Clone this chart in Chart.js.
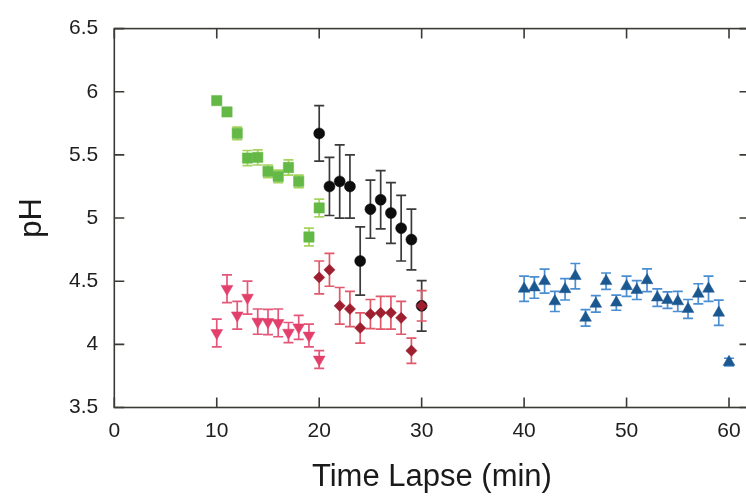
<!DOCTYPE html>
<html>
<head>
<meta charset="utf-8">
<script src="https://cdn.jsdelivr.net/npm/chart.js@4.4.1/dist/chart.umd.min.js"></script>
<style>
  html, body { margin: 0; padding: 0; background: #fff; overflow: hidden; }
  #wrap { width: 760px; height: 497px; }
</style>
</head>
<body>
<div id="wrap"><canvas id="c" width="760" height="497"></canvas></div>
<script>
// ---- data ----
const greenX = [10, 11, 12, 13, 14, 15, 16, 17, 18, 19, 20];
const greenY = [5.93, 5.84, 5.67, 5.475, 5.48, 5.37, 5.33, 5.40, 5.29, 4.85, 5.08];
const greenErr = [0.02, 0.03, 0.05, 0.06, 0.06, 0.05, 0.05, 0.06, 0.05, 0.07, 0.07];

const blackX = [20, 21, 22, 23, 24, 25, 26, 27, 28, 29, 30];
const blackY = [5.67, 5.25, 5.29, 5.25, 4.66, 5.07, 5.145, 5.04, 4.92, 4.83, 4.305];
const blackErr = [0.22, 0.23, 0.29, 0.25, 0.27, 0.23, 0.23, 0.24, 0.26, 0.24, 0.20];

const redX = [10, 11, 12, 13, 14, 15, 16, 17, 18, 19, 20];
const redY = [4.09, 4.44, 4.23, 4.37, 4.18, 4.177, 4.17, 4.093, 4.135, 4.07, 3.88];
const redErr = [0.11, 0.11, 0.11, 0.13, 0.10, 0.10, 0.11, 0.08, 0.095, 0.09, 0.07];

const maroonX = [20, 21, 22, 23, 24, 25, 26, 27, 28, 29, 30];
const maroonY = [4.53, 4.59, 4.305, 4.28, 4.13, 4.24, 4.25, 4.25, 4.21, 3.95, 4.305];
const maroonErr = [0.13, 0.13, 0.145, 0.14, 0.12, 0.115, 0.13, 0.13, 0.13, 0.10, 0.12];

const blueX = [40, 41, 42, 43, 44, 45, 46, 47, 48, 49, 50, 51, 52, 53, 54, 55, 56, 57, 58, 59, 60];
const blueY = [4.44, 4.45, 4.50, 4.34, 4.436, 4.54, 4.21, 4.32, 4.50, 4.33, 4.46, 4.43, 4.507, 4.37, 4.35, 4.34, 4.28, 4.40, 4.44, 4.25, 3.86];
const blueErr = [0.10, 0.085, 0.095, 0.08, 0.085, 0.10, 0.065, 0.065, 0.065, 0.06, 0.08, 0.075, 0.09, 0.07, 0.065, 0.08, 0.075, 0.08, 0.10, 0.10, 0.03];

const xTickValues = [0, 10, 20, 30, 40, 50, 60];
const yTickValues = [3.5, 4, 4.5, 5, 5.5, 6, 6.5];
const yTickLabels = ['3.5', '4', '4.5', '5', '5.5', '6', '6.5'];
const xTitle = 'Time Lapse (min)';
const yTitle = 'pH';

// ---- build datasets ----
function pts(xs, ys, es) { return xs.map((x, i) => ({ x: x, y: ys[i], err: es[i] })); }

const datasets = [
  { label: 'green', data: pts(greenX, greenY, greenErr), pointStyle: 'rect', pointRadius: 7.3,
    backgroundColor: '#64b846', borderColor: '#64b846', errColor: '#a6d45c', order: 5 },
  { label: 'red', data: pts(redX, redY, redErr), pointStyle: 'triangle', pointRotation: 180, pointRadius: 6.8,
    backgroundColor: '#e23f6a', borderColor: '#e23f6a', errColor: '#e4577a', order: 4 },
  { label: 'black', data: pts(blackX, blackY, blackErr), pointStyle: 'circle', pointRadius: 5.5,
    backgroundColor: '#0d0d0d', borderColor: '#0d0d0d', errColor: '#3a3a3a', order: 3 },
  { label: 'maroon', data: pts(maroonX, maroonY, maroonErr), pointStyle: 'rectRot', pointRadius: 5.6,
    backgroundColor: '#9e1f30', borderColor: '#9e1f30', errColor: '#e0596a', order: 2 },
  { label: 'blue', data: pts(blueX, blueY, blueErr), pointStyle: 'triangle', pointRadius: 6.8,
    backgroundColor: '#1c5890', borderColor: '#1c5890', errColor: '#4a8ed2', order: 1 }
];
datasets.forEach(d => { d.pointBorderWidth = 0.5; d.showLine = false; d.pointHoverRadius = d.pointRadius; });

// ---- error bars drawn through the scales ----
const errorBars = {
  id: 'errorBars',
  beforeDatasetsDraw(chart) {
    const ctx = chart.ctx, xs = chart.scales.x, ys = chart.scales.y;
    ctx.save();
    ctx.lineWidth = 1.7;
    chart.data.datasets.forEach(ds => {
      ctx.strokeStyle = ds.errColor;
      ds.data.forEach(p => {
        const px = xs.getPixelForValue(p.x);
        const top = ys.getPixelForValue(p.y + p.err);
        const bot = ys.getPixelForValue(p.y - p.err);
        const cap = 5;
        ctx.beginPath();
        ctx.moveTo(px, top); ctx.lineTo(px, bot);
        ctx.moveTo(px - cap, top); ctx.lineTo(px + cap, top);
        ctx.moveTo(px - cap, bot); ctx.lineTo(px + cap, bot);
        ctx.stroke();
      });
    });
    ctx.restore();
  }
};

// ---- frame with inward ticks ----
const frame = {
  id: 'frame',
  afterDatasetsDraw(chart) {
    const ctx = chart.ctx, a = chart.chartArea, xs = chart.scales.x, ys = chart.scales.y;
    const tl = 10;
    ctx.save();
    ctx.strokeStyle = '#3a3a36';
    ctx.lineWidth = 1.6;
    ctx.strokeRect(a.left, a.top, a.right - a.left, a.bottom - a.top);
    ctx.beginPath();
    xTickValues.forEach(v => {
      const px = xs.getPixelForValue(v);
      ctx.moveTo(px, a.bottom); ctx.lineTo(px, a.bottom - tl);
      ctx.moveTo(px, a.top); ctx.lineTo(px, a.top + tl);
    });
    yTickValues.forEach(v => {
      const py = ys.getPixelForValue(v);
      ctx.moveTo(a.left, py); ctx.lineTo(a.left + tl, py);
      ctx.moveTo(a.right, py); ctx.lineTo(a.right - tl, py);
    });
    ctx.stroke();
    ctx.restore();
  }
};

const FONT = '"Liberation Sans", Arial, Helvetica, sans-serif';

new Chart(document.getElementById('c'), {
  type: 'scatter',
  data: { datasets: datasets },
  options: {
    responsive: false,
    animation: false,
    events: [],
    layout: { padding: { top: 25.5, right: 10.5, left: 0, bottom: 0 } },
    plugins: { legend: { display: false }, tooltip: { enabled: false } },
    scales: {
      x: {
        type: 'linear', min: 0, max: 62,
        afterFit(s) { s.height = 89.5; },
        afterBuildTicks(s) { s.ticks = xTickValues.map(v => ({ value: v })); },
        grid: { display: false, drawTicks: false },
        border: { display: false },
        ticks: { padding: 11, color: '#1e1e1e', font: { family: FONT, size: 21 }, maxRotation: 0,
                 callback: v => String(v) },
        title: { display: true, text: xTitle, color: '#1a1a1a', font: { family: FONT, size: 31 },
                 padding: { top: 0, bottom: 0.5 } }
      },
      y: {
        type: 'linear', min: 3.5, max: 6.5,
        afterFit(s) { s.width = 114.3; },
        afterBuildTicks(s) { s.ticks = yTickValues.map(v => ({ value: v })); },
        grid: { display: false, drawTicks: false },
        border: { display: false },
        ticks: { padding: 16, color: '#1e1e1e', font: { family: FONT, size: 21 },
                 callback: (v) => yTickLabels[yTickValues.indexOf(v)] },
        title: { display: true, text: yTitle, color: '#1a1a1a', font: { family: FONT, size: 31 },
                 padding: { top: 13.4, bottom: 0 } }
      }
    }
  },
  plugins: [errorBars, frame]
});
</script>
</body>
</html>
